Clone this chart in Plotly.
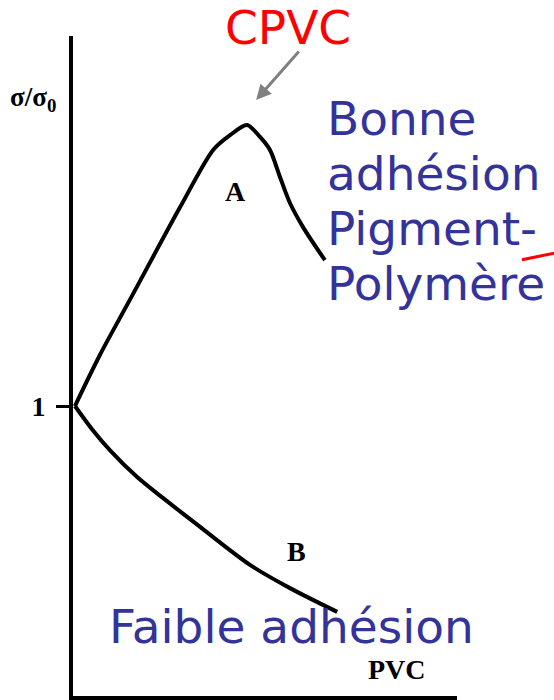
import plotly.graph_objects as go

# curve A: good pigment-polymer adhesion (rises to CPVC then drops)
pvc_a = [0.5, 7.0, 14.8, 27.9, 36.5, 40.9, 45.3, 48.7, 51.3, 53.9, 56.5, 59.9, 65.6]
sigma_a = [1.0, 1.176, 1.366, 1.686, 1.883, 1.934, 1.969, 1.928, 1.883, 1.790, 1.700, 1.617, 1.503]

# curve B: weak adhesion (monotonic decrease)
pvc_b = [0.5, 4.9, 9.6, 16.7, 23.4, 33.1, 46.1, 56.5, 68.8]
sigma_b = [1.0, 0.921, 0.848, 0.755, 0.683, 0.583, 0.452, 0.372, 0.290]

y_ticks = [1]
y_ticktext = ["<b>1</b>"]

serif = "Liberation Serif, DejaVu Serif, serif"
sans = "DejaVu Sans, Verdana, sans-serif"
blue = "#333399"

fig = go.Figure()

for xs, ys in [(pvc_a, sigma_a), (pvc_b, sigma_b)]:
    fig.add_trace(go.Scatter(
        x=xs, y=ys, mode="lines",
        line=dict(color="black", width=4, shape="spline", smoothing=0.8),
        showlegend=False, cliponaxis=False, hoverinfo="skip"
    ))


def label(x, y, text, size, color="black", family=serif, paper=False, xanchor="center"):
    kw = dict(xref="paper", yref="paper") if paper else {}
    fig.add_annotation(x=x, y=y, text=text, showarrow=False,
                       xanchor=xanchor, yanchor="middle",
                       font=dict(family=family, size=size, color=color), **kw)


# scanned-figure labels
label(42.2, 1.741, "<b>A</b>", 28)
label(58.3, 0.5, "<b>B</b>", 28)
label(84.4, 0.09, "<b>PVC</b>", 28)
label(-0.104, 0.905, "<b>σ/σ<sub>0</sub></b>", 27, paper=True)

# slide overlays
label(0.56, 1.013, "CPVC", 47, color="#ff0000", family=sans, paper=True)
fig.add_annotation(xref="paper", yref="paper", x=0.477, y=0.903, text="",
                   showarrow=True, arrowhead=2, arrowsize=1, arrowwidth=3,
                   arrowcolor="#808080", ax=44, ay=-50)

for txt, yp in [("Bonne", 0.875), ("adhésion", 0.792), ("Pigment-", 0.709), ("Polymère", 0.625)]:
    label(0.657, yp, txt, 47, color=blue, family=sans, paper=True, xanchor="left")

label(0.570, 0.106, "Faible adhésion", 47, color=blue, family=sans, paper=True)

fig.add_shape(type="line", xref="paper", yref="paper",
              x0=1.169, y0=0.661, x1=1.253, y1=0.671,
              line=dict(color="#ff0000", width=3))

fig.update_xaxes(range=[0, 100], showline=True, linecolor="black", linewidth=4,
                 showgrid=False, zeroline=False, showticklabels=False, ticks="")
fig.update_yaxes(range=[0, 2.276], showline=True, linecolor="black", linewidth=4,
                 showgrid=False, zeroline=False, tickvals=y_ticks, ticktext=y_ticktext,
                 ticks="outside", ticklen=13, tickwidth=3, tickcolor="black",
                 ticklabelstandoff=5,
                 tickfont=dict(family=serif, size=28, color="black"))

fig.update_layout(
    width=554, height=700,
    margin=dict(l=73, r=97, t=36, b=4),
    plot_bgcolor="white", paper_bgcolor="white",
    showlegend=False
)

fig.write_html("out.html", config={"displayModeBar": False},
               post_script="document.body.style.margin='0';")
